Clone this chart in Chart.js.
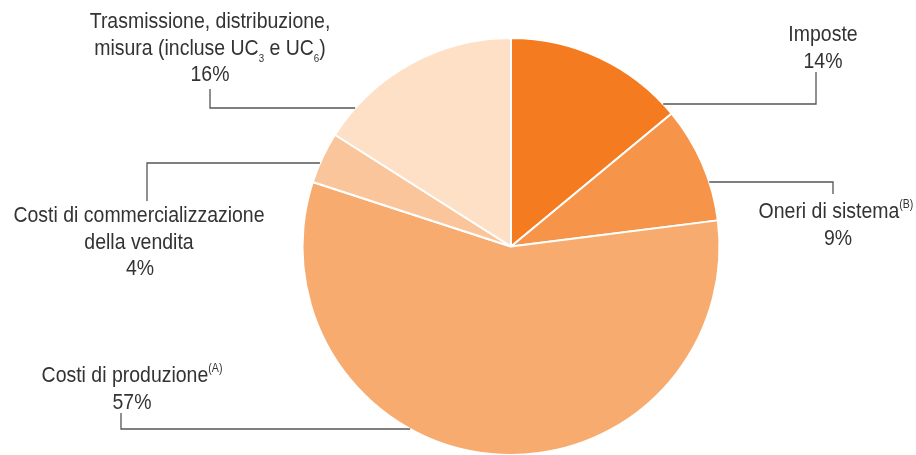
<!DOCTYPE html>
<html lang="it">
<head>
  <meta charset="UTF-8">
  <title>Composizione del prezzo</title>
  <script src="https://cdn.jsdelivr.net/npm/chart.js"></script>
  <style>
    html, body { margin: 0; padding: 0; background: #fff; overflow: hidden; }
    #wrap { position: absolute; left: 0; top: 0; width: 916px; height: 460px; }
  </style>
</head>
<body>
  <div id="wrap"><canvas id="pieChart"></canvas></div>

  <script>
    // voci di costo (in senso orario a partire dall'alto)
    const categories = [
      'Imposte',
      'Oneri di sistema^{(B)}',
      'Costi di produzione^{(A)}',
      'Costi di commercializzazione\ndella vendita',
      'Trasmissione, distribuzione,\nmisura (incluse UC_{3} e UC_{6})'
    ];
    const shares = [14, 9, 57, 4, 16];
    const sliceColors = ['#F47B20', '#F6954A', '#F8AB6E', '#FAC59A', '#FDE0C6'];

    // posizione delle etichette (x centro, y linea di base) e dei richiami
    const callouts = [
      { x: 823, y: 41,  pctX: 823, lineY: 104, elbowX: 816, endY: 72 },
      { x: 836, y: 218, pctX: 838, lineY: 182, elbowX: 833, endY: 194 },
      { x: 132, y: 382, pctX: 132, lineY: 429, elbowX: 121, endY: 413 },
      { x: 139, y: 222, pctX: 140, lineY: 163, elbowX: 147, endY: 201 },
      { x: 210, y: 28,  pctX: 210, lineY: 108, elbowX: 210, endY: 89 }
    ];

    const FONT = '"Liberation Sans", Arial, sans-serif';
    const SIZE = 22;
    const SX = 0.885;     // carattere stretto
    const LINE_H = 26.5;

    // spezza una riga in pezzi normali / pedici / apici
    function parseRich(line) {
      const parts = [];
      const re = /([_^])\{([^}]*)\}/g;
      let last = 0, m;
      while ((m = re.exec(line)) !== null) {
        if (m.index > last) parts.push({ t: line.slice(last, m.index), k: 'n' });
        parts.push({ t: m[2], k: m[1] === '_' ? 'sub' : 'sup' });
        last = re.lastIndex;
      }
      if (last < line.length) parts.push({ t: line.slice(last), k: 'n' });
      return parts;
    }

    function partFont(k) {
      if (k === 'sub') return '11px ' + FONT;
      if (k === 'sup') return '12px ' + FONT;
      return SIZE + 'px ' + FONT;
    }

    function drawRich(ctx, line, cx, baseY) {
      const parts = parseRich(line);
      let w = 0;
      parts.forEach(p => {
        ctx.font = partFont(p.k);
        p.w = ctx.measureText(p.t).width * SX;
        w += p.w;
      });
      let x = cx - w / 2;
      parts.forEach(p => {
        let y = baseY;
        if (p.k === 'sub') y = baseY + 7;
        if (p.k === 'sup') y = baseY - 10;
        ctx.save();
        ctx.font = partFont(p.k);
        ctx.translate(x, y);
        ctx.scale(SX, 1);
        ctx.fillText(p.t, 0, 0);
        ctx.restore();
        x += p.w;
      });
    }

    const calloutPlugin = {
      id: 'callouts',
      afterDraw(chart) {
        const ctx = chart.ctx;
        const arcs = chart.getDatasetMeta(0).data;
        ctx.save();
        ctx.textBaseline = 'alphabetic';
        ctx.textAlign = 'left';
        ctx.fillStyle = '#333333';
        ctx.strokeStyle = '#555555';
        ctx.lineWidth = 1.3;

        categories.forEach((label, i) => {
          const c = callouts[i];
          const arc = arcs[i];
          const r = arc.outerRadius;
          const dy = c.lineY - arc.y;
          const side = c.elbowX > arc.x ? 1 : -1;
          const startX = arc.x + side * Math.sqrt(Math.max(r * r - dy * dy, 0));

          ctx.beginPath();
          ctx.moveTo(startX, c.lineY);
          ctx.lineTo(c.elbowX, c.lineY);
          ctx.lineTo(c.elbowX, c.endY);
          ctx.stroke();

          const lines = label.split('\n');
          lines.forEach((ln, j) => drawRich(ctx, ln, c.x, c.y + j * LINE_H));
          drawRich(ctx, shares[i] + '%', c.pctX, c.y + lines.length * LINE_H);
        });
        ctx.restore();
      }
    };

    new Chart(document.getElementById('pieChart'), {
      type: 'pie',
      data: {
        labels: categories,
        datasets: [{
          data: shares,
          backgroundColor: sliceColors,
          borderColor: '#ffffff',
          borderWidth: 2
        }]
      },
      options: {
        responsive: true,
        maintainAspectRatio: false,
        animation: false,
        layout: { padding: { top: 37, bottom: 4, left: 301, right: 195 } },
        plugins: {
          legend: { display: false },
          tooltip: { enabled: false }
        }
      },
      plugins: [calloutPlugin]
    });
  </script>
</body>
</html>
